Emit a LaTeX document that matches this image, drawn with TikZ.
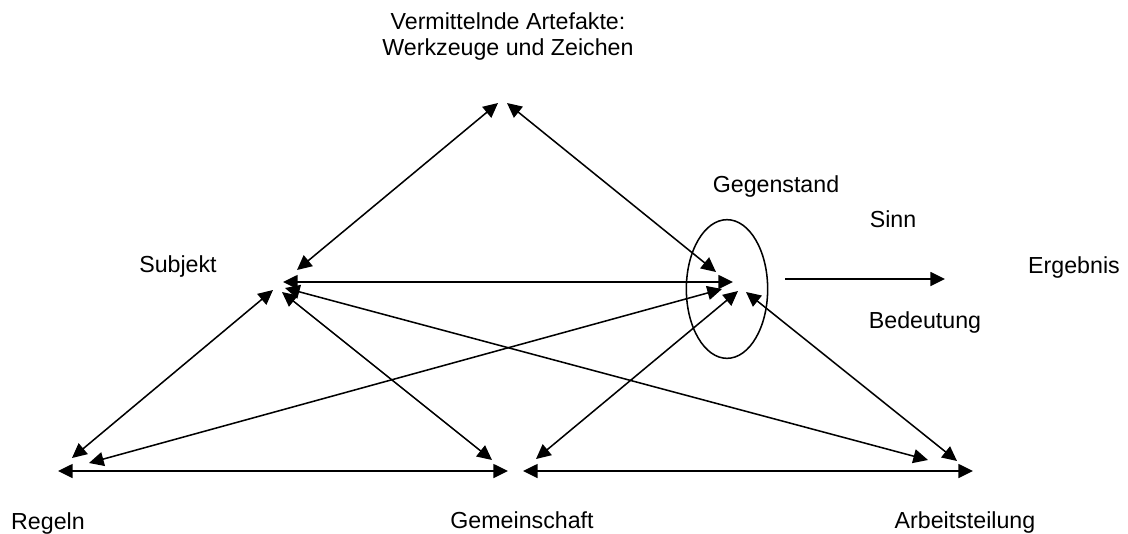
\documentclass[tikz,border=0pt]{standalone}
\usepackage{fontspec}
\setmainfont{Liberation Sans}
\usetikzlibrary{arrows.meta,shapes.geometric}

\begin{document}
\begin{tikzpicture}[
    x=0.75pt,y=-0.75pt,
    >={Triangle[length=11pt,width=10.5pt]},
    link/.style={<->,line width=1.15pt,draw=black},
    flow/.style={->,line width=1.15pt,draw=black},
    label/.style={anchor=base,inner sep=0pt,font=\fontsize{17.4}{19.5}\selectfont},
    objring/.style={ellipse,draw=black,line width=1.15pt,inner sep=0pt,
      minimum width=61pt,minimum height=104pt}
  ]
    \useasboundingbox (0,0) rectangle (1128,533);

    % Labels of the activity triangle.
    \node[label,anchor=center,align=center] (artefakte) at (508,36)
      {Vermittelnde Artefakte:\\Werkzeuge und Zeichen};
    \node[label] (subjekt) at (178,272) {Subjekt};
    \node[label] (gegenstand) at (776,192) {Gegenstand};
    \node[label] (sinn) at (893,227) {Sinn};
    \node[label] (bedeutung) at (925,328) {Bedeutung};
    \node[label] (ergebnis) at (1074,273) {Ergebnis};
    \node[label] (regeln) at (48,529) {Regeln};
    \node[label] (gemeinschaft) at (522,528) {Gemeinschaft};
    \node[label] (arbeit) at (965,528) {Arbeitsteilung};

    % Object ring.
    \node[objring] (ring) at (727,289) {};

    % Arrow ends near each corner.
    \coordinate (sub-art) at (297,270);
    \coordinate (art-sub) at (498,103);
    \coordinate (art-geg) at (507,103);
    \coordinate (geg-art) at (716,272);
    \coordinate (sub-geg) at (283,282);
    \coordinate (geg-sub) at (733,282);
    \coordinate (reg-sub) at (72,458);
    \coordinate (sub-reg) at (273,290);
    \coordinate (reg-geg) at (89,463);
    \coordinate (geg-reg) at (722,289);
    \coordinate (sub-gem) at (282,292);
    \coordinate (gem-sub) at (492,460);
    \coordinate (sub-arb) at (285,288);
    \coordinate (arb-sub) at (928,460);
    \coordinate (gem-geg) at (536,459);
    \coordinate (geg-gem) at (738,291);
    \coordinate (geg-arb) at (746,292);
    \coordinate (arb-geg) at (957,461);
    \coordinate (reg-gem) at (58,471);
    \coordinate (gem-reg) at (508,471);
    \coordinate (gem-arb) at (523,471);
    \coordinate (arb-gem) at (973,471);
    \coordinate (geg-erg) at (785,279);
    \coordinate (erg-geg) at (945,279);

    \draw[link] (sub-art) -- (art-sub);
    \draw[link] (art-geg) -- (geg-art);
    \draw[link] (sub-geg) -- (geg-sub);
    \draw[link] (reg-sub) -- (sub-reg);
    \draw[link] (reg-geg) -- (geg-reg);
    \draw[link] (sub-gem) -- (gem-sub);
    \draw[link] (sub-arb) -- (arb-sub);
    \draw[link] (gem-geg) -- (geg-gem);
    \draw[link] (geg-arb) -- (arb-geg);
    \draw[link] (reg-gem) -- (gem-reg);
    \draw[link] (gem-arb) -- (arb-gem);
    \draw[flow] (geg-erg) -- (erg-geg);
  \end{tikzpicture}
\end{document}
